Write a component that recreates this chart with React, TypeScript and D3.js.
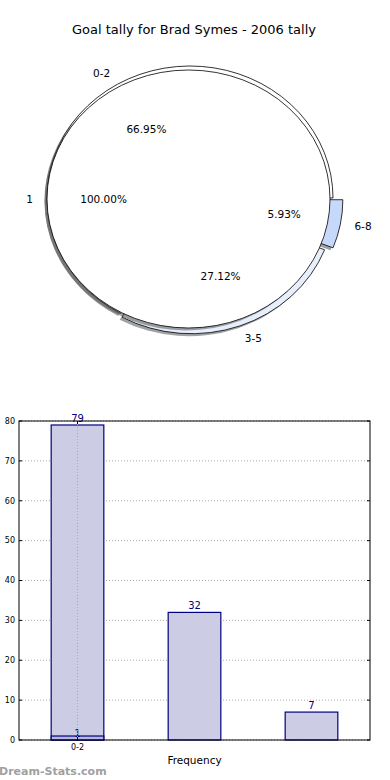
import React from "react";
import * as d3 from "d3";

const title = "Goal tally for Brad Symes - 2006 tally";
const pieLabels = ["0-2", "3-5", "6-8"];
const pieValues = [79, 32, 7];
const pieColors = ["#ffffff", "#e8effc", "#c6d9fb"];
const pieExplode = [0, 0.03, 0.07];
const totalLabels = ["1"];
const totalValues = [1];
const barCategories = ["0-2", "3-5", "6-8"];
const barValues = [79, 32, 7];
const extraBarValues = [1];
const yTicks = [0, 10, 20, 30, 40, 50, 60, 70, 80];
const xTickLabels = ["0-2"];

const W = 390;
const H = 780;
const font = "DejaVu Sans, Verdana, sans-serif";

type PieProps = {
  labels: string[];
  values: number[];
  colors: string[];
  explode: number[];
  cx: number;
  cy: number;
  rx: number;
  ry: number;
  part: "shadow" | "wedges" | "text";
};

function Pie(props: PieProps) {
  const { labels, values, colors, explode, cx, cy, rx, ry, part } = props;
  // matplotlib pie: start at 3 o'clock, counter-clockwise
  const pieGen = d3
    .pie<number>()
    .sort(null)
    .startAngle(Math.PI / 2)
    .endAngle(Math.PI / 2 - 2 * Math.PI)
    .value((d) => d);
  const arcs = pieGen(values);
  const arcGen = d3.arc<d3.PieArcDatum<number>>().innerRadius(0).outerRadius(rx);
  const total = d3.sum(values);
  const pct = d3.format(".2f");
  const k = ry / rx;

  if (part === "text") {
    return (
      <g fontFamily={font} fontSize={10.5} fill="#000">
        {arcs.map((a, i) => {
          const m = (a.startAngle + a.endAngle) / 2;
          const e = explode[i] || 0;
          const sx = Math.sin(m);
          const sy = -Math.cos(m);
          const lx = cx + (1.1 + e) * rx * sx;
          const ly = cy + (1.1 + e) * ry * sy;
          const px = cx + (0.6 + e) * rx * sx;
          const py = cy + (0.6 + e) * ry * sy;
          return (
            <g key={i}>
              <text x={lx} y={ly} dy="0.35em" textAnchor={sx < -1e-6 ? "end" : "start"}>
                {labels[i]}
              </text>
              <text x={px} y={py} dy="0.35em" textAnchor="middle">
                {pct((values[i] / total) * 100) + "%"}
              </text>
            </g>
          );
        })}
      </g>
    );
  }

  return (
    <g transform={`translate(${cx},${cy}) scale(1,${k})`}>
      {arcs.map((a, i) => {
        const m = (a.startAngle + a.endAngle) / 2;
        const e = (explode[i] || 0) * rx;
        const ox = e * Math.sin(m);
        const oy = -e * Math.cos(m);
        if (part === "shadow") {
          return (
            <path
              key={i}
              d={arcGen(a) || ""}
              transform={`translate(${ox - 2.5},${oy + 2.5 / k})`}
              fill={d3.color(colors[i])!.darker(3.5).formatHex()}
              fillOpacity={0.5}
              stroke="none"
            />
          );
        }
        return (
          <path
            key={i}
            d={arcGen(a) || ""}
            transform={`translate(${ox},${oy})`}
            fill={colors[i]}
            stroke="#000"
            strokeWidth={0.8}
            vectorEffect="non-scaling-stroke"
          />
        );
      })}
    </g>
  );
}

function BarChart() {
  const left = 19;
  const right = 370;
  const top = 421;
  const bottom = 740;
  const x = d3
    .scaleBand<string>()
    .domain(barCategories)
    .range([left, right])
    .paddingInner(0.55)
    .paddingOuter(0.275);
  const y = d3.scaleLinear().domain([0, 80]).range([bottom, top]);
  const navy = "#000080";
  const fill = "#ccccE4";
  const firstCenter = (x(xTickLabels[0]) || 0) + x.bandwidth() / 2;

  return (
    <g fontFamily={font}>
      {yTicks.map((t) => (
        <line
          key={"g" + t}
          x1={left}
          x2={right}
          y1={y(t)}
          y2={y(t)}
          stroke="#aaaaaa"
          strokeWidth={1}
          strokeDasharray="1,2"
        />
      ))}
      {barCategories.map((c, i) => (
        <g key={c}>
          <rect
            x={x(c)}
            y={y(barValues[i])}
            width={x.bandwidth()}
            height={y(0) - y(barValues[i])}
            fill={fill}
            stroke={navy}
            strokeWidth={1.2}
          />
          <text x={(x(c) || 0) + x.bandwidth() / 2} y={y(barValues[i]) - 3} textAnchor="middle" fontSize={10} fill={navy}>
            {barValues[i]}
          </text>
        </g>
      ))}
      {extraBarValues.map((v, i) => (
        <g key={"e" + i}>
          <rect
            x={x(barCategories[i])}
            y={y(v)}
            width={x.bandwidth()}
            height={y(0) - y(v)}
            fill="#b8b8d8"
            stroke={navy}
            strokeWidth={1.2}
          />
          <text x={(x(barCategories[i]) || 0) + x.bandwidth() / 2} y={y(v) + 1} textAnchor="middle" fontSize={10} fill={navy}>
            {v}
          </text>
        </g>
      ))}
      <line x1={firstCenter} x2={firstCenter} y1={top} y2={bottom} stroke="#aaaaaa" strokeWidth={1} strokeDasharray="1,2" />
      <rect x={left} y={top} width={right - left} height={bottom - top} fill="none" stroke="#000" strokeWidth={1} />
      {yTicks.map((t) => (
        <g key={"t" + t}>
          <line x1={left} x2={left + 3} y1={y(t)} y2={y(t)} stroke="#000" />
          <line x1={right - 3} x2={right} y1={y(t)} y2={y(t)} stroke="#000" />
          <text x={left - 4} y={y(t)} dy="0.35em" textAnchor="end" fontSize={8} fill="#000">
            {t}
          </text>
        </g>
      ))}
      {xTickLabels.map((l) => {
        const cxl = (x(l) || 0) + x.bandwidth() / 2;
        return (
          <g key={"x" + l}>
            <line x1={cxl} x2={cxl} y1={bottom} y2={bottom - 3} stroke="#000" />
            <line x1={cxl} x2={cxl} y1={top} y2={top + 3} stroke="#000" />
            <text x={cxl} y={bottom + 10} textAnchor="middle" fontSize={8} fill="#000">
              {l}
            </text>
          </g>
        );
      })}
      <text x={(left + right) / 2} y={764} textAnchor="middle" fontSize={10.5} fill="#000">
        Frequency
      </text>
    </g>
  );
}

export default function App() {
  const main = { cx: 190, cy: 198, rx: 143, ry: 132 };
  const whole = { cx: 188.5, cy: 199, rx: 141.5, ry: 129 };
  return (
    <svg width={W} height={H} style={{ position: "absolute", left: 0, top: 0, background: "#fff" }}>
      <rect width={W} height={H} fill="#fff" />
      <text x={194} y={34} textAnchor="middle" fontFamily={font} fontSize={13} fill="#000">
        {title}
      </text>
      <Pie labels={pieLabels} values={pieValues} colors={pieColors} explode={pieExplode} {...main} part="shadow" />
      <Pie labels={pieLabels} values={pieValues} colors={pieColors} explode={pieExplode} {...main} part="wedges" />
      <Pie labels={totalLabels} values={totalValues} colors={["#ffffff"]} explode={[0]} {...whole} part="shadow" />
      <Pie labels={totalLabels} values={totalValues} colors={["#ffffff"]} explode={[0]} {...whole} part="wedges" />
      <Pie labels={pieLabels} values={pieValues} colors={pieColors} explode={pieExplode} {...main} part="text" />
      <Pie labels={totalLabels} values={totalValues} colors={["#ffffff"]} explode={[0]} {...whole} part="text" />
      <BarChart />
      <text x={-1} y={775} fontFamily={font} fontSize={11} fontWeight="bold" fill="#a0a0a0">
        Dream-Stats.com
      </text>
    </svg>
  );
}
